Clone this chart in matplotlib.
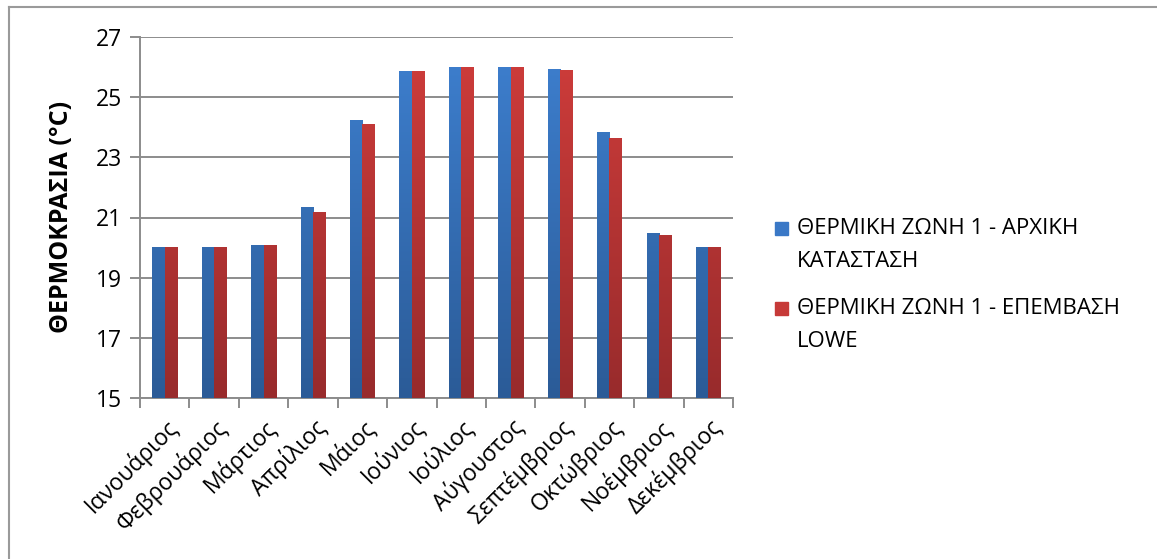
import numpy as np
import matplotlib
matplotlib.use("Agg")
import matplotlib.pyplot as plt
from matplotlib.lines import Line2D
from matplotlib.patches import Rectangle
from matplotlib.colors import LinearSegmentedColormap

plt.rcParams['font.family'] = ['Open Sans', 'DejaVu Sans']

months = ["Ιανουάριος", "Φεβρουάριος", "Μάρτιος", "Απρίλιος", "Μάιος", "Ιούνιος",
          "Ιούλιος", "Αύγουστος", "Σεπτέμβριος", "Οκτώβριος", "Νοέμβριος", "Δεκέμβριος"]
initial_state = [20.02, 20.02, 20.09, 21.35, 24.23, 25.86, 25.99, 25.99, 25.93, 23.84, 20.48, 20.02]
lowe_upgrade = [20.02, 20.02, 20.09, 21.18, 24.10, 25.86, 25.99, 25.99, 25.89, 23.64, 20.42, 20.02]
series_names = ["ΘΕΡΜΙΚΗ ΖΩΝΗ 1 - ΑΡΧΙΚΗ\nΚΑΤΑΣΤΑΣΗ", "ΘΕΡΜΙΚΗ ΖΩΝΗ 1 - ΕΠΕΜΒΑΣΗ\nLOWE"]
y_ticks = [15, 17, 19, 21, 23, 25, 27]

W, H = 1157, 559
fig = plt.figure(figsize=(W / 100, H / 100), dpi=100)
ax = fig.add_axes([140 / W, 1 - 398 / H, (733 - 140) / W, (398 - 37) / H])

ymin, ymax = 15, 27
bar_w = 0.25
x = np.arange(len(months))

# vertical gradients: lighter at the top, darker at the bottom
blue_cmap = LinearSegmentedColormap.from_list("b", ["#2b5b97", "#3e80d0"])
red_cmap = LinearSegmentedColormap.from_list("r", ["#982b2c", "#d03d3b"])
grad = np.linspace(0, 1, 256).reshape(-1, 1)

def gradient_bars(xs, vals, cmap):
    for xc, v in zip(xs, vals):
        left, right = xc - bar_w / 2, xc + bar_w / 2
        im = ax.imshow(grad, cmap=cmap, aspect='auto', origin='lower',
                       extent=(left, right, ymin, ymax), zorder=3,
                       interpolation='bilinear')
        clip = Rectangle((left, ymin), bar_w, v - ymin, transform=ax.transData)
        im.set_clip_path(clip)

gradient_bars(x - bar_w / 2, initial_state, blue_cmap)
gradient_bars(x + bar_w / 2, lowe_upgrade, red_cmap)

ax.set_xlim(-0.5, len(months) - 0.5)
ax.set_ylim(ymin, ymax)

grid_color = "#8c8c8c"
ax.set_yticks(y_ticks)
ax.yaxis.grid(True, color=grid_color, linewidth=1.4, zorder=0)
ax.set_axisbelow(True)
for s in ["top", "right"]:
    ax.spines[s].set_visible(False)
for s in ["left", "bottom"]:
    ax.spines[s].set_color(grid_color)
    ax.spines[s].set_linewidth(1.4)

# category boundary ticks on x
ax.set_xticks(np.arange(len(months) + 1) - 0.5)
ax.set_xticklabels([])
ax.set_xticks(x, minor=True)
ax.set_xticklabels(months, minor=True, rotation=45, ha='right', va='top',
                   rotation_mode='anchor', fontsize=16.5)
ax.tick_params(axis='x', which='minor', length=0, pad=12)
ax.tick_params(axis='x', which='major', length=7, width=1.4, color=grid_color, direction='out')
ax.tick_params(axis='y', length=7, width=1.4, color=grid_color, direction='out', labelsize=16.5, pad=6)

fig.text(62 / W, 1 - 217 / H, "ΘΕΡΜΟΚΡΑΣΙΑ (°C)", rotation=90, ha='center', va='center',
         fontsize=18, fontweight='bold')

# legend
colors = ["#3a78c6", "#c63a38"]
legend_rows = [229, 309]
for name, c, yr in zip(series_names, colors, legend_rows):
    fig.patches.append(Rectangle((775 / W, 1 - (yr + 6) / H), 13 / W, 13 / H,
                                 transform=fig.transFigure, color=c, figure=fig))
    fig.text(797 / W, 1 - (yr - 11) / H, name, ha='left', va='top', fontsize=16,
             linespacing=1.72)

# chart frame
fig.add_artist(Line2D([9 / W, 1], [1 - 7 / H, 1 - 7 / H], transform=fig.transFigure,
                      color="#9a9a9a", linewidth=1.5))
fig.add_artist(Line2D([9 / W, 9 / W], [0, 1 - 7 / H], transform=fig.transFigure,
                      color="#9a9a9a", linewidth=1.5))

fig.savefig("out.png", dpi=100)
